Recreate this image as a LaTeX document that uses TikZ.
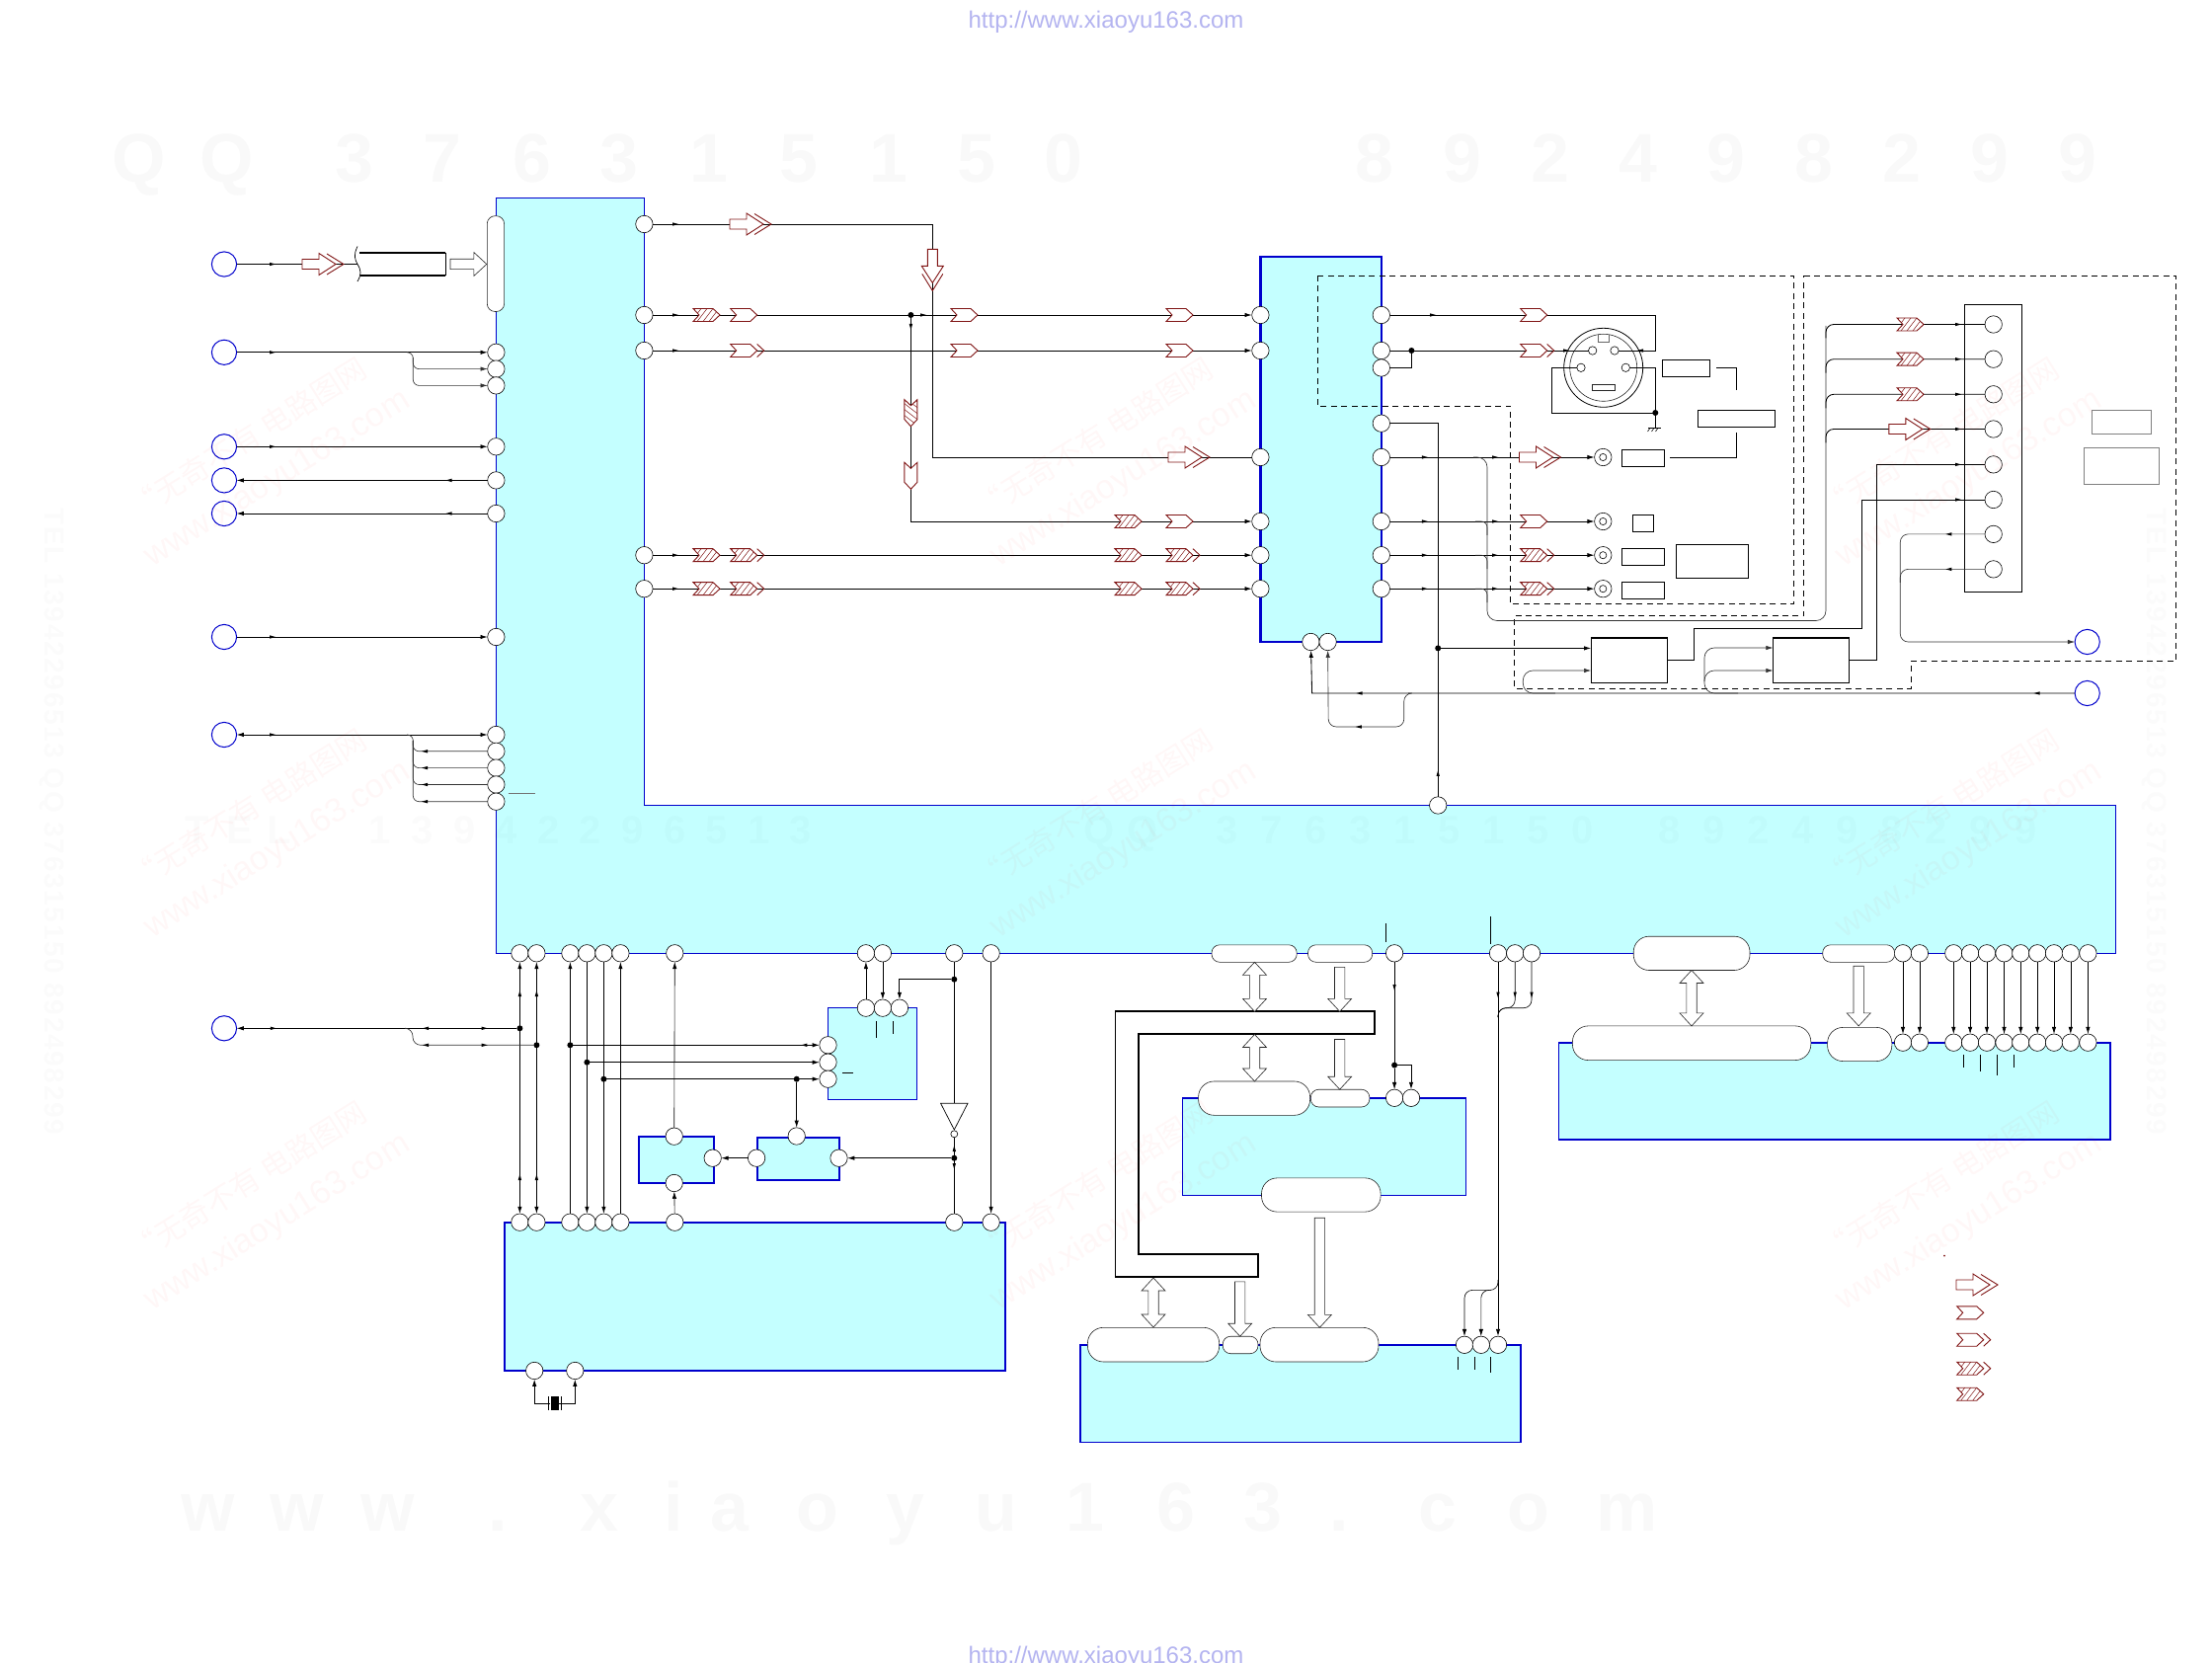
\documentclass[tikz,border=0pt]{standalone}
\usepackage{fontspec}
\setmainfont{Liberation Sans}
\newfontfamily\cjkf{Noto Sans CJK SC}
\usetikzlibrary{arrows.meta}
\definecolor{rd}{HTML}{801515}
\definecolor{cy}{HTML}{C4FFFF}
\definecolor{bl}{HTML}{0000CC}
\definecolor{urlc}{HTML}{B4B4F0}
\tikzset{
  x=0.5pt,y=-0.5pt,>={Latex[length=3.6pt,width=2.2pt]},
  block/.style={draw=bl,fill=cy,line width=#1,inner sep=0pt,outer sep=0pt},
  block/.default=0.6pt,
  cpin/.style={circle,draw=black,fill=white,line width=0.3pt,minimum size=8.7pt,inner sep=0pt,outer sep=0pt},
  smallpin/.style={circle,draw=black,fill=white,line width=0.3pt,minimum size=4.2pt,inner sep=0pt,outer sep=0pt},
  bpin/.style={circle,draw=bl,fill=white,line width=0.5pt,minimum size=12.6pt,inner sep=0pt,outer sep=0pt},
  jdot/.style={circle,fill=black,minimum size=3pt,inner sep=0pt,outer sep=0pt},
  wire/.style={draw=black,line width=0.42pt},
  twire/.style={draw=black,line width=0.3pt},
  cwire/.style={draw=black!80,line width=0.32pt,rounded corners=3pt},
  bwhite/.style={draw=black,fill=white,line width=0.45pt,inner sep=0pt,outer sep=0pt},
  bgray/.style={draw=black!50,fill=white,line width=0.45pt,inner sep=0pt,outer sep=0pt},
  pillbox/.style={draw=black!85,fill=white,line width=0.3pt,inner sep=0pt,outer sep=0pt},
  warrow/.style={draw=black!85,fill=white,line width=0.3pt},
  rdl/.style={draw=rd,line width=0.45pt},
  rdt/.style={draw=rd,line width=0.25pt},
  dashbox/.style={draw=black,line width=0.45pt,dash pattern=on 3pt off 2.2pt},
  wmb/.style={font=\bfseries\fontsize{35}{35}\selectfont,text=black,text opacity=.022,anchor=base,inner sep=0pt},
  wms/.style={font=\bfseries\fontsize{20}{20}\selectfont,text=black,text opacity=.016,anchor=base,inner sep=0pt},
  wmside/.style={text=black,text opacity=.014,rotate=-90,inner sep=0pt,font=\bfseries\fontsize{14}{14}\selectfont\addfontfeature{LetterSpace=6}},
  wmr/.style={text=red,text opacity=.03,rotate=32,inner sep=0pt},
  urltxt/.style={font=\fontsize{12}{12}\selectfont,text=urlc,inner sep=0pt},
}
\newcommand\bx[6]{%
  \pgfmathsetmacro\bxw{(#4-#3)*0.5}\pgfmathsetmacro\bxh{(#6-#5)*0.5}%
  \node[#1,rectangle,minimum width=\bxw pt,minimum height=\bxh pt] (#2) at ({(#3+#4)/2},{(#5+#6)/2}) {};}
\newcommand\pill[5]{%
  \pgfmathsetmacro\bxw{(#4-#2)*0.5}\pgfmathsetmacro\bxh{(#5-#3)*0.5}%
  \pgfmathsetmacro\bxr{0.46*min(\bxw,\bxh)}%
  \node[pillbox,rectangle,rounded corners=\bxr pt,minimum width=\bxw pt,minimum height=\bxh pt] (#1) at ({(#2+#4)/2},{(#3+#5)/2}) {};}
\newcommand\mk[3]{\fill[black,shift={(#1,#2)},rotate=#3] (-3,-1.7)--(3,0)--(-3,1.7)--cycle;}
\newcommand\chevshape{(0,-6.5)--(20,-6.5)--(27,0)--(20,6.5)--(0,6.5)--(6,0)--cycle}
\newcommand\chevhatch{\begin{scope}\clip \chevshape;\foreach \a in {-8,-2,...,28}{\draw[rdt] (\a,6.5)--(\a+10,-6.5);}\end{scope}}
\newcommand\chev[3]{\begin{scope}[shift={(#1,#2)},rotate=#3]\draw[rdl,fill=white]\chevshape;\end{scope}}
\newcommand\chevd[3]{\begin{scope}[shift={(#1,#2)},rotate=#3]\draw[rdl,fill=white]\chevshape;\draw[rdl] (27,-6.5)--(34,0)--(27,6.5);\end{scope}}
\newcommand\chevh[3]{\begin{scope}[shift={(#1,#2)},rotate=#3]\draw[rdl,fill=white]\chevshape;\chevhatch\end{scope}}
\newcommand\chevdh[3]{\begin{scope}[shift={(#1,#2)},rotate=#3]\draw[rdl,fill=white]\chevshape;\chevhatch\draw[rdl] (27,-6.5)--(34,0)--(27,6.5);\end{scope}}
\newcommand\redbig[3]{\begin{scope}[shift={(#1,#2)},rotate=#3]\draw[rdl,fill=white] (0,-5)--(17,-5)--(17,-11)--(34,0)--(17,11)--(17,5)--(0,5)--cycle;\draw[rdl] (25,-10.5)--(42,0)--(25,10.5);\end{scope}}
% white arrows: x y length rotation
\newcommand\sglarr[4]{\begin{scope}[shift={(#1,#2)},rotate=#4]\draw[warrow] (0,-5.2)--({#3-13},-5.2)--({#3-13},-12)--(#3,0)--({#3-13},12)--({#3-13},5.2)--(0,5.2)--cycle;\end{scope}}
\newcommand\dblarr[4]{\begin{scope}[shift={(#1,#2)},rotate=#4]\draw[warrow] (0,0)--(13,-12)--(13,-5.2)--({#3-13},-5.2)--({#3-13},-12)--(#3,0)--({#3-13},12)--({#3-13},5.2)--(13,5.2)--(13,12)--cycle;\end{scope}}
\begin{document}
\begin{tikzpicture}
\useasboundingbox (0,0) rectangle (2240,1684);
\fill[white] (0,0) rectangle (2240,1684);

% ---------- blocks
\draw[block=0.6pt] (502.4,200.2)--(652.4,200.2)--(652.4,815.5)--(2142.4,815.5)--(2142.4,965.3)--(502.4,965.3)--cycle;
\bx{block=1.2pt}{midblk}{1276.4}{1398.8}{260}{650}
\bx{block=1pt}{lowblk}{510.5}{1018.4}{1237.7}{1388}
\bx{block=0.7pt}{xblk}{838.5}{928.5}{1020.7}{1113.3}
\bx{block=1pt}{mblk}{646.5}{722.8}{1150.7}{1198}
\bx{block=1pt}{nblk}{766.6}{849.5}{1152.3}{1195}
\bx{block=0.9pt}{rblk}{1578.4}{2136.8}{1055.7}{1154.3}
\bx{block=0.8pt}{sblk}{1197.5}{1484.4}{1111.8}{1210.4}
\bx{block=0.8pt}{tblk}{1093.7}{1539.8}{1361.8}{1460.4}

% dashed regions
\draw[dashbox] (1334.4,279.5)--(1816.5,279.5)--(1816.5,611.3)--(1529.5,611.3)--(1529.5,411.1)--(1334.4,411.1)--cycle;
\draw[dashbox] (1826.7,279.5)--(2203.6,279.5)--(2203.6,669.4)--(1935.2,669.4)--(1935.2,697)--(1533.4,697)--(1533.4,623.5)--(1826.7,623.5)--cycle;

% ---------- terminals
\foreach \n/\x/\y in {1/227/267.5,2/227/356.8,3/227/452.3,4/227/486.4,5/227/520,6/227/645,7/227/744,8/227/1041.3,9/2113.7/650,10/2113.7/702}
  {\node[bpin] (B\n) at (\x,\y) {};}
\pill{mpill}{493.3}{218.7}{510.6}{315.5}
\foreach \n/\y in {1/356.8,2/373.6,3/390.4,4/452.3,5/486.4,6/520,7/645,8/744,9/760.8,10/777.6,11/794.5,12/811.7}
  {\node[cpin] (ML\n) at (502.4,\y) {};}
\foreach \n/\y in {1/227,2/319,3/355,4/562.2,5/596.2}
  {\node[cpin] (MR\n) at (652.4,\y) {};}
\foreach \n/\y in {1/319,2/355,3/463,4/528,5/562.2,6/596.2}
  {\node[cpin] (DL\n) at (1276.4,\y) {};}
\foreach \n/\y in {1/319,2/355,3/372.5,4/428.7,5/463,6/528,7/562.2,8/596.2}
  {\node[cpin] (DR\n) at (1398.8,\y) {};}
\node[cpin] (DB1) at (1327.4,650) {};
\node[cpin] (DB2) at (1344.6,650) {};
\node[cpin] (BC) at (1456.2,815.5) {};
\foreach \n/\y in {1/463,2/528,3/562.2,4/596.2}
  {\node[cpin] (J\n) at (1623.3,\y) {};\node[smallpin,minimum size=3.6pt] (Ji\n) at (1623.3,\y) {};}
\foreach \n/\x in {a/526.4,b/543.4,c/577.4,d/594.4,e/611.4,f/628.4,g/683.3,h/876.9,i/893.9,j/966.3,k/1003.6,m/1412.1,p/1517,q/1534.2,r/1551}
  {\node[cpin] (MB\n) at (\x,965.3) {};}
\foreach \n/\x in {a/526.4,b/543.4,c/577.4,d/594.4,e/611.4,f/628.4,g/683.3,j/966.3,k/1003.6}
  {\node[cpin] (LB\n) at (\x,1237.7) {};}
\node[cpin] (LX1) at (541.2,1388) {};
\node[cpin] (LX2) at (582.3,1388) {};
\foreach \n/\x in {1/876.9,2/893.9,3/910.9}{\node[cpin] (XT\n) at (\x,1020.7) {};}
\foreach \n/\y in {1/1058.3,2/1075.7,3/1092.7}{\node[cpin] (XL\n) at (838.5,\y) {};}
\node[cpin] (Mt) at (682.7,1150.7) {};
\node[cpin] (Mb) at (682.7,1198) {};
\node[cpin] (Mr) at (721.7,1172.7) {};
\node[cpin] (Nt) at (806.7,1150.5) {};
\node[cpin] (Nl) at (766.1,1172.7) {};
\node[cpin] (Nr) at (849.5,1172.7) {};
\node[cpin] (SP1) at (1412.1,1111.8) {};
\node[cpin] (SP2) at (1429,1111.8) {};
\foreach \n/\x in {1/1483,2/1499.8,3/1517}{\node[cpin] (TP\n) at (\x,1361.8) {};}
\foreach \n/\x in {1/1927,2/1943.9,3/1978.3,4/1995.1,5/2012,6/2029.5,7/2046.3,8/2063.2,9/2080,10/2096.8,11/2114.4}
  {\node[cpin] (MQ\n) at (\x,965.3) {};\node[cpin] (RQ\n) at (\x,1055.7) {};}

% pills
\pill{P1}{1227}{956.8}{1313.2}{974.3}
\pill{P2}{1324.5}{956.8}{1389.7}{974.3}
\pill{P3}{1654.2}{948.2}{1772}{982.5}
\pill{P4}{1845.7}{956.8}{1918.6}{974.3}
\pill{P5}{1592.4}{1038.9}{1833.8}{1073.6}
\pill{P6}{1850.6}{1040.4}{1915.8}{1074.6}
\pill{P7}{1213.6}{1095}{1326.6}{1129.3}
\pill{P8}{1327.3}{1103.2}{1386.9}{1121}
\pill{P9}{1277.5}{1192.9}{1398.1}{1227.1}
\pill{P10}{1101.4}{1344.3}{1234.7}{1379}
\pill{P11}{1238.2}{1353.2}{1274}{1370.7}
\pill{P12}{1276}{1344.3}{1396}{1379}

% white boxes
\bx{bwhite}{boxA}{1611.2}{1688.3}{645.7}{691.3}
\bx{bwhite}{boxB}{1795.5}{1872.6}{645.7}{691.3}
\draw[line width=0.9pt] (1611.2,645.7)--(1688.3,645.7) (1795.5,645.7)--(1872.6,645.7);
\bx{bwhite}{boxC}{1683.3}{1731.3}{364.7}{381.3}
\bx{bwhite}{boxD}{1719.3}{1797.3}{415.3}{432.3}
\bx{bwhite}{boxE}{1642.4}{1685.2}{455.5}{472.4}
\bx{bwhite}{boxF}{1653.3}{1674.3}{521.3}{538.2}
\bx{bwhite}{boxG}{1642.4}{1685.2}{555.4}{572.2}
\bx{bwhite}{boxH}{1697.3}{1770.6}{551.6}{585.2}
\bx{bwhite}{boxI}{1642.4}{1685.2}{589.5}{606.7}
\bx{bwhite}{rconn}{1989.4}{2047.4}{308.6}{599.4}
\bx{bgray}{boxJ}{2118.8}{2178.2}{415.3}{439.8}
\bx{bgray}{boxK}{2110.5}{2186.4}{453.6}{490}
\foreach \n/\y in {1/328.5,2/363.7,3/399.3,4/434.5,5/470.4,6/506,7/540.9,8/576.4}
  {\node[cpin] (RC\n) at (2018.7,\y) {};}

% cable
\coordinate (cableL) at (362,267.5);
\draw[line width=0.35pt] (362,249.5) .. controls (358,258) and (359,262) .. (362,267.5) .. controls (366,274) and (366,278) .. (362,285);
\draw[line width=1pt] (364,255.8)--(451.4,255.8);
\draw[line width=1pt] (451.4,279.3)--(365,279.3);
\draw[line width=0.45pt] (451.4,255.8)--(451.4,279.3);

% S connector
\node[circle,draw=black,fill=white,line width=0.4pt,minimum size=40pt,inner sep=0pt] (Sout) at (1623.7,372.3) {};
\node[circle,draw=black!85,fill=white,line width=0.3pt,minimum size=34pt,inner sep=0pt] (Sin) at (1623.7,372.3) {};
\draw[black!60,line width=0.35pt,fill=white] (1618.3,338.6)--(1618.3,346.7)--(1629.3,346.7)--(1629.3,338.6);
\node[smallpin] (S1) at (1612.7,355) {};
\node[smallpin] (S2) at (1635,355) {};
\node[smallpin] (S3) at (1601,372.3) {};
\node[smallpin] (S4) at (1646.3,372.3) {};
\bx{pillbox}{Sbar}{1612.3}{1635.3}{389.3}{395.3}

% crystal
\node[fill=black,minimum width=4.2pt,minimum height=7pt,inner sep=0pt] (xtal) at (561.8,1421) {};

% inverter
\coordinate (invT) at (966.3,1117.3);
\draw[line width=0.35pt,fill=white] (952.6,1117.3)--(980,1117.3)--(966.3,1144)--cycle;
\node[smallpin,minimum size=3.5pt] (invB) at (966.3,1148.3) {};

% ---------- wires, left of main block
\draw[wire] (B1)--(cableL); \mk{276}{267.5}{0}
\draw[wire,->] (B2)--(ML1); \mk{276}{356.8}{0}
\draw[cwire,->] (412,356.8)--(418.3,356.8)--(418.3,373.6)--(ML2);
\draw[cwire,->] (418.3,362)--(418.3,390.4)--(ML3);
\draw[wire,->] (B3)--(ML4); \mk{276}{452.3}{0}
\draw[wire,->] (ML5)--(B4); \mk{454.5}{486.4}{180}
\draw[wire,->] (ML6)--(B5); \mk{454.5}{520}{180}
\draw[wire,->] (B6)--(ML7); \mk{276}{645}{0}
\draw[wire,<->] (B7)--(ML8); \mk{276}{744}{0}
\draw[cwire] (412,744)--(418.3,744)--(418.3,760.8)--(ML9);
\draw[cwire] (418.3,750)--(418.3,777.6)--(ML10);
\draw[cwire] (418.3,750)--(418.3,794.5)--(ML11);
\draw[cwire] (418.3,750)--(418.3,811.7)--(ML12);
\foreach \y in {760.8,777.6,794.5,811.7}{\mk{430}{\y}{180}}
\draw[black!55,line width=0.45pt] (514.7,803.7)--(542.2,803.7);

% ---------- wires, main block to middle block
\draw[wire] (MR1)--(944.3,227)--(944.3,463)--(DL3); \mk{684}{227}{0}
\draw[wire,->] (MR2)--(DL1); \mk{684}{319}{0} \mk{935}{319}{0}
\draw[wire,->] (MR3)--(DL2); \mk{684}{355}{0}
\node[jdot] (jn1) at (922.4,319) {};
\draw[wire,->] (jn1)--(922.4,528)--(DL4); \mk{922.4}{331}{-90}
\draw[wire,->] (MR4)--(DL5); \mk{684}{562.2}{0}
\draw[wire,->] (MR5)--(DL6); \mk{684}{596.2}{0}

% ---------- wires, right of middle block
\draw[wire] (DR1)--(1676.3,319)--(1676.3,355)--(S2); \mk{1451}{319}{0} \mk{1661}{355}{180}
\draw[wire] (DR2)--(S1); \mk{1586}{355}{0}
\node[jdot] (jn2) at (1429.4,355) {};
\draw[wire] (jn2)--(1429.4,372.5)--(DR3);
\draw[wire] (S3)--(1571.3,372.3)--(1571.3,418)--(1676.3,418);
\draw[wire] (S4)--(1676.3,372.3)--(1676.3,433.3);
\node[jdot] (jn3) at (1676.3,418) {};
\draw[line width=0.35pt] (1669,433.3)--(1682,433.3);
\foreach \a in {1671,1675,1679}{\draw[line width=0.3pt] (\a,433.3)--(\a-2.5,437);}
\draw[wire] (1738.3,372.3)--(1758.3,372.3)--(1758.3,395);
\draw[wire] (1758.3,438.3)--(1758.3,463)--(1690.9,463);
\draw[twire] (BC)--(1456.2,428.7)--(DR4); \mk{1456.2}{783}{90}
\node[jdot] (jn4) at (1456.2,656.4) {};
\draw[wire,->] (jn4)--(1611.2,656.4);
\foreach \a/\b/\c/\d in {5/463/DR5/J1,6/528/DR6/J2,7/562.2/DR7/J3,8/596.2/DR8/J4}
  {\draw[wire,->] (\c)--(\d); \mk{1442.8}{\b}{0} \mk{1514}{\b}{0}}
\draw[cwire,rounded corners=5pt] (1492,463)--(1506,463)--(1506,628.5)--(1849,628.5)--(1849,330);
\foreach \y in {528,562.2,596.2}{\draw[cwire] (1494,\y)--(1506,\y)--(1506,\y+14);}
\foreach \n/\y in {1/328.5,2/363.7,3/399.3,4/434.5}
  {\draw[wire,rounded corners=4pt] (1849,\y+14)--(1849,\y)--(RC\n); \mk{1983}{\y}{0}}
\draw[wire] (boxA.east)--(1715.1,668.5)--(1715.1,636.5)--(1885.4,636.5)--(1885.4,506)--(RC6); \mk{1983}{506}{0}
\draw[wire] (boxB.east)--(1900,668.5)--(1900,470.4)--(RC5); \mk{1983}{470.4}{0}
\draw[cwire,rounded corners=4pt,->] (RC7)--(1924.3,540.9)--(1924.3,650)--(B9); \mk{1973.4}{540.9}{180}
\draw[cwire,rounded corners=4pt] (RC8)--(1924.3,576.4)--(1924.3,590); \mk{1973.4}{576.4}{180}
\draw[wire,->] (B10)--(1328.6,702)--(DB1); \mk{2062.7}{702}{180} \mk{1376.5}{702}{180}
\draw[cwire,rounded corners=4pt,->] (1426,702)--(1421.8,702)--(1421.8,736)--(1345.2,736)--(DB2); \mk{1375.8}{736}{180}
\draw[cwire,rounded corners=5pt,->] (1574.8,702)--(1542.3,702)--(1542.3,679)--(1611.2,679);
\draw[cwire,rounded corners=5pt,->] (1760,702)--(1726,702)--(1726,679)--(1795.5,679);
\draw[cwire,rounded corners=5pt,->] (1726,690)--(1726,656)--(1795.5,656);

% ---------- wires, lower left
\draw[wire,<->] (MBa)--(LBa); \mk{526.4}{1006}{90} \mk{526.4}{1192}{90}
\draw[wire,<->] (MBb)--(LBb); \mk{543.4}{1006}{90} \mk{543.4}{1192}{90}
\draw[wire,<-] (MBc)--(LBc);
\draw[wire,->] (MBd)--(LBd);
\draw[wire,->] (MBe)--(LBe);
\draw[wire,<-] (MBf)--(LBf);
\node[jdot] (jd1) at (526.4,1041.3) {};
\node[jdot] (jd2) at (543.4,1058.3) {};
\node[jdot] (jd3) at (577.4,1058.3) {};
\node[jdot] (jd4) at (594.4,1075.7) {};
\node[jdot] (jd5) at (611.4,1092.7) {};
\node[jdot] (jd6) at (806.7,1092.7) {};
\node[jdot] (jd7) at (966.3,991.7) {};
\node[jdot] (jd8) at (966.3,1172.7) {};
\draw[wire,<-] (B8)--(jd1); \mk{276.8}{1041.3}{0} \mk{431}{1041.3}{180} \mk{490.7}{1041.3}{0}
\draw[cwire,rounded corners=4pt] (411,1041.3)--(418,1041.3)--(418,1058.3)--(jd2); \mk{431}{1058.3}{180} \mk{490.7}{1058.3}{0}
\draw[wire,->] (jd3)--(XL1); \mk{814.4}{1058.3}{180}
\draw[wire,->] (jd4)--(XL2);
\draw[wire,->] (jd5)--(XL3);
\draw[wire,->] (jd6)--(Nt);
\draw[twire,->] (XT1)--(MBh);
\draw[twire,->] (MBi)--(XT2);
\draw[wire,->] (jd7)--(910.9,991.7)--(XT3);
\draw[twire] (MBj)--(invT);
\draw[twire] (invB)--(LBj); \mk{966.3}{1163}{90} \mk{966.3}{1181}{-90}
\draw[wire,->] (jd8)--(Nr);
\draw[wire,->] (Nl)--(Mr);
\draw[twire,->] (Mt)--(MBg);
\draw[twire,->] (LBg)--(Mb);
\draw[wire,->] (MBk)--(LBk);
\draw[wire,->] (xtal.west)--(541.2,1421)--(LX1);
\draw[wire,<-] (LX2)--(582.3,1421)--(xtal.east);
\draw[line width=0.45pt] (555.5,1414)--(555.5,1428) (568.6,1414)--(568.6,1428);
\draw[twire] (887.3,1034.3)--(887.3,1050.7) (904.3,1034.3)--(904.3,1046.7);
\draw[line width=0.45pt] (852.8,1086.3)--(864.3,1086.3);

% ---------- wires, lower right
\node[jdot] (jd9) at (1412.1,1078.6) {};
\draw[twire,->] (MBm)--(jd9)--(SP1); \mk{1412.1}{1000}{-90}
\draw[wire,->] (jd9)--(1429,1078.6)--(SP2);
\draw[wire,->] (MBp)--(TP3); \mk{1517}{1007.5}{-90}
\draw[twire,rounded corners=4pt] (MBq)--(1534.2,1020.7)--(1517,1020.7)--(1517,1030); \mk{1534.2}{1007.5}{-90}
\draw[twire,rounded corners=4pt] (MBr)--(1551,1020.7)--(1517,1020.7)--(1517,1030); \mk{1551}{1007.5}{-90}
\draw[twire,rounded corners=4pt,->] (1517,1296)--(1517,1306.4)--(1483,1306.4)--(TP1);
\draw[twire,rounded corners=4pt,->] (1510,1306.4)--(1499.8,1306.4)--(TP2);
\foreach \n in {1,2,...,11}{\draw[twire,->] (MQ\n)--(RQ\n);}
\draw[twire] (1403,935)--(1403,954) (1509,927.9)--(1509,955.7);
\draw[twire] (1988,1068)--(1988,1081.4) (2005,1068)--(2005,1085) (2022.5,1068)--(2022.5,1088.6) (2039.3,1068)--(2039.3,1081.4);
\draw[twire] (1476,1374.3)--(1476,1387) (1493.5,1374.3)--(1493.5,1387) (1509.7,1374.3)--(1509.7,1389.6);

% bus shape
\draw[draw=black,fill=white,line width=0.9pt] (1129.4,1024.3)--(1391.8,1024.3)--(1391.8,1046.8)--(1152.6,1046.8)--(1152.6,1270)--(1274,1270)--(1274,1293.2)--(1129.4,1293.2)--cycle;

% white arrows
\sglarr{456}{267.5}{36.8}{0}
\dblarr{1270.5}{974.3}{50}{-90}
\sglarr{1356.7}{979.3}{45}{-90}
\dblarr{1713}{982.5}{56.4}{-90}
\sglarr{1882.2}{978.2}{60.7}{-90}
\dblarr{1270.5}{1047.5}{47.5}{-90}
\sglarr{1356.7}{1052.5}{50.7}{-90}
\sglarr{1336.4}{1233.2}{111.1}{-90}
\dblarr{1168}{1294}{50}{-90}
\sglarr{1255.7}{1297.9}{55.3}{-90}

% ---------- red flow markers
\redbig{306}{267.5}{0}
\redbig{739}{227}{0}
\redbig{944.3}{252.4}{-90}
\redbig{1183}{463}{0}
\chevh{702}{319}{0} \chev{739.7}{319}{0} \chev{963}{319}{0} \chev{1181}{319}{0}
\chevd{739.7}{355}{0} \chev{963}{355}{0} \chev{1181}{355}{0}
\chevh{922.4}{404.7}{-90} \chev{922.4}{468.3}{-90}
\chevh{1129}{528}{0} \chev{1181}{528}{0}
\chevh{702}{562.2}{0} \chevdh{739.7}{562.2}{0} \chevh{1129}{562.2}{0} \chevdh{1181}{562.2}{0}
\chevh{702}{596.2}{0} \chevdh{739.7}{596.2}{0} \chevh{1129}{596.2}{0} \chevdh{1181}{596.2}{0}
\chev{1539.7}{319}{0} \chevd{1539.7}{355}{0} \redbig{1538.5}{463}{0}
\chev{1539.7}{528}{0} \chevdh{1539.7}{562.2}{0} \chevdh{1539.7}{596.2}{0}
\chevh{1921}{328.5}{0} \chevh{1921}{363.7}{0} \chevh{1921}{399.3}{0} \redbig{1912.8}{434.5}{0}
% legend
\fill[rd] (1969,1271.7) circle[radius=1];
\redbig{1981}{1301}{0}
\chev{1981.7}{1329.3}{0}
\chevd{1981.7}{1356.7}{0}
\chevdh{1981.7}{1385.7}{0}
\chevh{1981.7}{1411.7}{0}

% ---------- printed web addresses
\node[urltxt] (urltop) at (1120,22) {http://www.xiaoyu163.com};
\node[urltxt] (urlbot) at (1120,1678) {http://www.xiaoyu163.com};

% ---------- faint watermarks
\foreach \c/\x in {Q/141,Q/230,3/359,7/448,6/539,3/627,1/718,5/809,1/900,5/989,0/1077,8/1392,9/1481,2/1570,4/1659,9/1748,8/1837,2/1926,9/2015,9/2104}
  {\node[wmb] (wa\x) at (\x,185) {\c};}
\foreach \c/\x in {w/211,w/301,w/393,./504,x/607,i/682,a/739,o/828,y/917,u/1009,1/1099,6/1191,3/1279,./1356,c/1456,o/1548,m/1648}
  {\node[wmb] (wb\x) at (\x,1550) {\c};}
\foreach \c/\x in {T/200,E/243,L/283,Q/1113,Q/1157,3/1243,7/1288,6/1333,3/1378,1/1423,5/1468,1/1513,5/1558,0/1603,8/1691,9/1736,2/1781,4/1826,9/1871,8/1916,2/1961,9/2006,9/2052}
  {\node[wms] (wc\x) at (\x,855) {\c};}
\foreach \c [count=\i from 0] in {1,3,9,4,2,2,9,6,5,1,3}
  {\node[wms] (wd\i) at ({385+42.6*\i},855) {\c};}
\node[wmside] (wsl) at (53,832) {TEL 13942296513  QQ 376315150  892498299};
\node[wmside] (wsr) at (2182,832) {TEL 13942296513  QQ 376315150  892498299};
\foreach \x in {281,1138,1994}{\foreach \y in {493,869,1246}{
  \node[wmr,font=\cjkf\fontsize{15}{15}\selectfont] (we\x\y) at (\x-30,\y-50) {“无奇不有 电路图网};
  \node[wmr,font=\fontsize{17}{17}\selectfont] (wf\x\y) at (\x,\y-8) {www.xiaoyu163.com};
}}
\end{tikzpicture}
\end{document}
